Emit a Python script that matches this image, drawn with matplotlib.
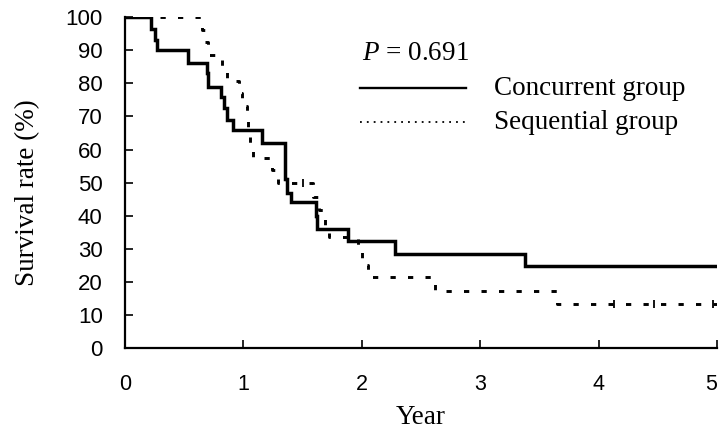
import matplotlib
matplotlib.use("Agg")
import matplotlib.pyplot as plt

plt.rcParams["mathtext.fontset"] = "custom"
plt.rcParams["mathtext.it"] = "Liberation Serif:italic"
plt.rcParams["mathtext.rm"] = "Liberation Serif"

# Concurrent group (solid) Kaplan-Meier steps
conc_t = [0, 0.22, 0.25, 0.27, 0.53, 0.69, 0.70, 0.81, 0.84, 0.86, 0.91, 1.16,
          1.35, 1.37, 1.40, 1.61, 1.62, 1.88, 2.28, 3.38, 5.0]
conc_s = [100, 96.5, 93, 90, 86, 83, 79, 76, 72.5, 69, 66, 62,
          51, 47, 44, 40, 36, 32.3, 28.4, 24.8, 24.8]

# Sequential group (dashed) Kaplan-Meier steps
seq_t = [0, 0.65, 0.68, 0.70, 0.82, 0.86, 0.96, 0.99, 1.03, 1.04, 1.06, 1.08,
         1.24, 1.29, 1.59, 1.64, 1.69, 1.72, 1.97, 2.00, 2.05, 2.62, 3.65, 5.0]
seq_s = [100, 96, 92.5, 88.5, 84.6, 80.7, 77, 73, 69, 65, 61.3, 57.4,
         53.8, 50, 45.6, 41.7, 37, 33.5, 29, 25, 21.4, 17.2, 13.3, 13.3]

# censored observations on the sequential curve
cens_t = [1.50, 4.13, 4.47, 4.97]
cens_s = [50, 13.3, 13.3, 13.3]

x_ticks = [0, 1, 2, 3, 4, 5]
y_ticks = [0, 10, 20, 30, 40, 50, 60, 70, 80, 90, 100]

serif = "Liberation Serif"
sans = "Liberation Sans"

fig = plt.figure(figsize=(7.22, 4.40), dpi=100)
ax = fig.add_axes([0.173, 0.209, 0.820, 0.752])

ax.step(conc_t, conc_s, where="post", color="black", lw=2.5, solid_joinstyle="miter")
ax.step(seq_t, seq_s, where="post", color="black", lw=2.1, linestyle=(0, (1.8, 4.2)))
ax.plot(cens_t, cens_s, linestyle="none", marker="|", color="black", ms=6, mew=1.3)

ax.set_xlim(0, 5)
ax.set_ylim(0, 100)
ax.set_xticks(x_ticks)
ax.set_yticks(y_ticks)
ax.set_xticklabels([str(v) for v in x_ticks], fontfamily=sans, fontsize=15.5)
ax.set_yticklabels([str(v) for v in y_ticks], fontfamily=sans, fontsize=16)
ax.tick_params(axis="x", direction="in", length=6, width=1.2, pad=19)
ax.tick_params(axis="y", direction="in", length=6, width=1.2, pad=16)
# keep the last x tick label inside the canvas
ax.get_xticklabels()[-1].set_horizontalalignment("right")
ax.get_xticklabels()[-1].set_x(5.0)

for side in ["top", "right"]:
    ax.spines[side].set_visible(False)
for side in ["left", "bottom"]:
    ax.spines[side].set_linewidth(1.6)

ax.set_xlabel("Year", fontfamily=serif, fontsize=19.5)
ax.set_ylabel("Survival rate (%)", fontfamily=serif, fontsize=19.5)
ax.xaxis.set_label_coords(0.5, -0.172)
ax.yaxis.set_label_coords(-0.144, 0.47)

# legend / annotation
fs = 19.5
ax.text(0.40, 0.89, r"$P$ = 0.691", transform=ax.transAxes, fontfamily=serif,
        fontsize=fs, va="center", ha="left")
ax.plot([0.397, 0.576], [0.785, 0.785], transform=ax.transAxes, color="black", lw=1.7)
ax.plot([0.397, 0.576], [0.683, 0.683], transform=ax.transAxes, color="black", lw=1.3,
        linestyle=(0, (1, 2.8)))
ax.text(0.623, 0.785, "Concurrent group", transform=ax.transAxes, fontfamily=serif,
        fontsize=fs, va="center", ha="left")
ax.text(0.623, 0.683, "Sequential group", transform=ax.transAxes, fontfamily=serif,
        fontsize=fs, va="center", ha="left")

fig.savefig("out.png", dpi=100)
